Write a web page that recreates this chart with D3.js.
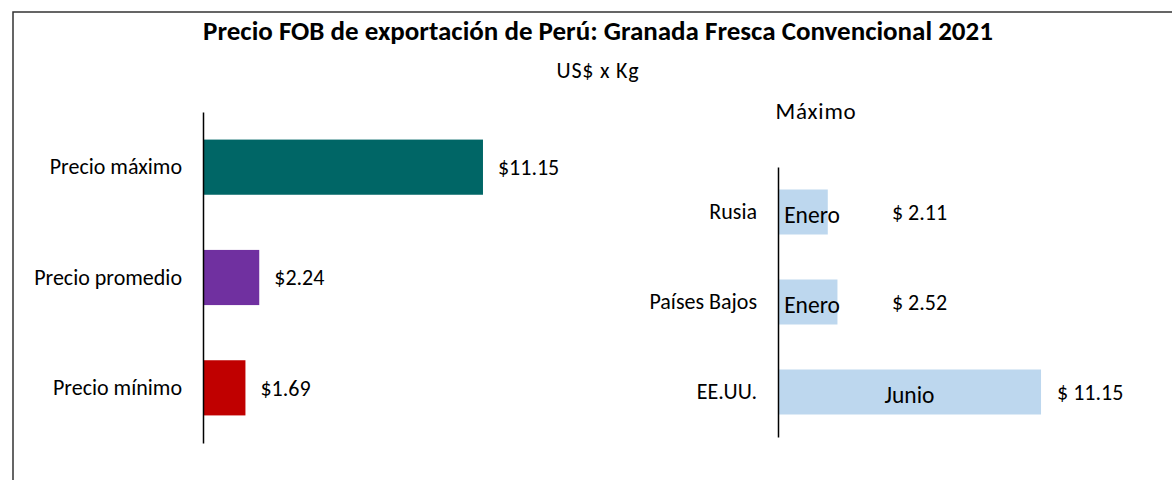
<!DOCTYPE html>
<html>
<head>
<meta charset="utf-8">
<script src="https://cdn.jsdelivr.net/npm/d3@7"></script>
<style>
  body { margin: 0; background: #fff; }
  svg { display: block; font-family: Carlito, Calibri, Lato, sans-serif; }
</style>
</head>
<body>
<svg id="chart"></svg>
<script>
// data
var leftCategories = ["Precio máximo", "Precio promedio", "Precio mínimo"];
var leftValues = [11.15, 2.24, 1.69];
var rightCategories = ["Rusia", "Países Bajos", "EE.UU."];
var rightValues = [2.11, 2.52, 11.15];
var rightMonths = ["Enero", "Enero", "Junio"];

var leftColors = ["#006666", "#7030A0", "#C00000"];
var rightColor = "#BDD7EE";

var W = 1172, H = 480;
var svg = d3.select("#chart").attr("width", W).attr("height", H);

// outer frame (only left and top edges are visible)
svg.append("rect")
    .attr("x", 13).attr("y", 12)
    .attr("width", 1300).attr("height", 600)
    .attr("fill", "none")
    .attr("stroke", "#333")
    .attr("stroke-width", 1.5);

// titles
svg.append("text")
    .attr("x", 598).attr("y", 40)
    .attr("text-anchor", "middle")
    .attr("font-weight", "bold")
    .attr("font-size", 27)
    .text("Precio FOB de exportación de Perú: Granada Fresca Convencional 2021");

svg.append("text")
    .attr("x", 598).attr("y", 78)
    .attr("text-anchor", "middle")
    .attr("font-size", 22)
    .attr("letter-spacing", 0.8)
    .text("US$ x Kg");

svg.append("text")
    .attr("x", 816).attr("y", 119)
    .attr("text-anchor", "middle")
    .attr("font-size", 23)
    .attr("letter-spacing", 0.8)
    .text("Máximo");

var fmt = d3.format(".2f");

// ---- left chart
var xL = d3.scaleLinear().domain([0, 12]).range([203, 203 + 12 * 25.11]);
var yL = d3.scaleBand().domain(leftCategories).range([112, 443])
    .paddingInner(0.5).paddingOuter(0.25);

var gL = svg.append("g");
gL.selectAll("rect.bar")
    .data(leftValues)
    .enter().append("rect")
    .attr("class", "bar")
    .attr("x", xL(0))
    .attr("y", function(d, i) { return yL(leftCategories[i]); })
    .attr("width", function(d) { return xL(d) - xL(0); })
    .attr("height", yL.bandwidth())
    .attr("fill", function(d, i) { return leftColors[i]; });

gL.selectAll("text.val")
    .data(leftValues)
    .enter().append("text")
    .attr("class", "val")
    .attr("x", function(d) { return xL(d) + 15; })
    .attr("y", function(d, i) { return yL(leftCategories[i]) + yL.bandwidth() / 2; })
    .attr("dy", "0.35em")
    .attr("font-size", 22)
    .text(function(d) { return "$" + fmt(d); });

var axL = svg.append("g")
    .attr("transform", "translate(" + xL(0) + ",0)")
    .call(d3.axisLeft(yL).tickSize(0).tickSizeOuter(0).tickPadding(21));

// ---- right chart
var xR = d3.scaleLinear().domain([0, 12]).range([778, 778 + 12 * 23.59]);
var yR = d3.scaleBand().domain(rightCategories).range([167, 437])
    .paddingInner(0.5).paddingOuter(0.25);

var gR = svg.append("g");
gR.selectAll("rect.bar")
    .data(rightValues)
    .enter().append("rect")
    .attr("class", "bar")
    .attr("x", xR(0))
    .attr("y", function(d, i) { return yR(rightCategories[i]); })
    .attr("width", function(d) { return xR(d) - xR(0); })
    .attr("height", yR.bandwidth())
    .attr("fill", rightColor);

// month labels inside bars
gR.selectAll("text.month")
    .data(rightValues)
    .enter().append("text")
    .attr("class", "month")
    .attr("x", function(d) { return Math.max((xR(0) + xR(d)) / 2, xR(0) + 34); })
    .attr("y", function(d, i) { return yR(rightCategories[i]) + yR.bandwidth() / 2 + 3; })
    .attr("dy", "0.35em")
    .attr("text-anchor", "middle")
    .attr("font-size", 23.5)
    .text(function(d, i) { return rightMonths[i]; });

gR.selectAll("text.val")
    .data(rightValues)
    .enter().append("text")
    .attr("class", "val")
    .attr("x", function(d) { return Math.max(xR(d), xR(0) + 98) + 16; })
    .attr("y", function(d, i) { return yR(rightCategories[i]) + yR.bandwidth() / 2; })
    .attr("dy", "0.35em")
    .attr("font-size", 22)
    .text(function(d) { return "$ " + fmt(d); });

var axR = svg.append("g")
    .attr("transform", "translate(" + xR(0) + ",0)")
    .call(d3.axisLeft(yR).tickSize(0).tickSizeOuter(0).tickPadding(21));

// axis styling
[axL, axR].forEach(function(ax) {
    ax.select(".domain").attr("stroke", "#000").attr("stroke-width", 1.5);
    ax.selectAll(".tick text")
        .attr("font-size", 22)
        .attr("font-family", "Carlito, Calibri, Lato, sans-serif")
        .attr("fill", "#000");
});
</script>
</body>
</html>
